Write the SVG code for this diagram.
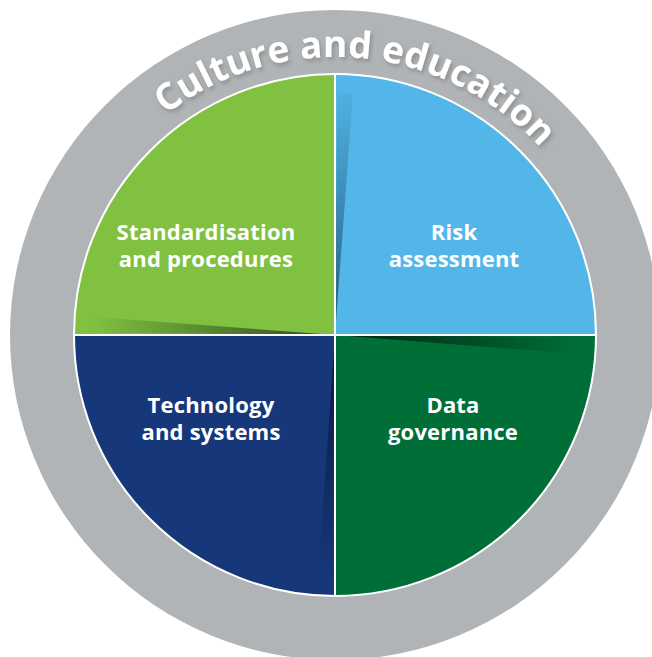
<svg xmlns="http://www.w3.org/2000/svg" width="652" height="657" viewBox="0 0 652 657">
  <defs>
    <style>
      .label { font-family: "Open Sans", "Liberation Sans", sans-serif; font-weight: 700; font-size: 22px; letter-spacing: 0.2px; fill: #ffffff; text-anchor: middle; }
      .ring { font-family: "Open Sans", "Liberation Sans", sans-serif; font-weight: 700; font-size: 37px; fill: #ffffff; }
      .divider { stroke: #ffffff; stroke-width: 2; fill: none; }
    </style>
    <filter id="softShadow" x="-10%" y="-10%" width="120%" height="130%">
      <feDropShadow dx="2" dy="3" stdDeviation="2" flood-color="#6f7375" flood-opacity="0.55"/>
    </filter>
    <!-- shading wedges next to the dividing lines -->
    <linearGradient id="shadeBlue" x1="0" y1="335" x2="0" y2="92" gradientUnits="userSpaceOnUse">
      <stop offset="0" stop-color="#173f5e" stop-opacity="0.75"/>
      <stop offset="1" stop-color="#173f5e" stop-opacity="0.05"/>
    </linearGradient>
    <linearGradient id="shadeLime" x1="335" y1="0" x2="92" y2="0" gradientUnits="userSpaceOnUse">
      <stop offset="0" stop-color="#1f3316" stop-opacity="0.85"/>
      <stop offset="1" stop-color="#1f3316" stop-opacity="0"/>
    </linearGradient>
    <linearGradient id="shadeForest" x1="335" y1="0" x2="580" y2="0" gradientUnits="userSpaceOnUse">
      <stop offset="0" stop-color="#001a0c" stop-opacity="0.9"/>
      <stop offset="1" stop-color="#001a0c" stop-opacity="0"/>
    </linearGradient>
    <linearGradient id="shadeNavy" x1="0" y1="335" x2="0" y2="580" gradientUnits="userSpaceOnUse">
      <stop offset="0" stop-color="#08132f" stop-opacity="0.85"/>
      <stop offset="1" stop-color="#08132f" stop-opacity="0"/>
    </linearGradient>
    <clipPath id="pieClip">
      <circle cx="335" cy="335" r="261"/>
    </clipPath>
    <path id="ringPath" d="M 57 335 A 278 278 0 0 1 613 335"/>
  </defs>

  <rect width="652" height="657" fill="#ffffff"/>

  <!-- outer ring with its curved title -->
  <g id="ring">
    <circle cx="335" cy="335" r="325" fill="#b1b4b6"/>
    <text class="ring" filter="url(#softShadow)">
      <textPath href="#ringPath" startOffset="461" text-anchor="middle">Culture and education</textPath>
    </text>
  </g>

  <!-- quadrants -->
  <g clip-path="url(#pieClip)">
    <g id="standardisation">
      <rect x="74" y="74" width="261" height="261" fill="#80c141"/>
      <polygon points="335,335 95,333 95,317" fill="url(#shadeLime)"/>
      <text class="label" x="206" y="240"><tspan x="206">Standardisation</tspan><tspan x="206" dy="26.5">and procedures</tspan></text>
    </g>
    <g id="risk">
      <rect x="335" y="74" width="261" height="261" fill="#52b7e8"/>
      <polygon points="335,335 337,93 353,93" fill="url(#shadeBlue)"/>
      <text class="label" x="454" y="240"><tspan x="454">Risk</tspan><tspan x="454" dy="26.5">assessment</tspan></text>
    </g>
    <g id="technology">
      <rect x="74" y="335" width="261" height="261" fill="#17377b"/>
      <polygon points="335,335 333,578 318,578" fill="url(#shadeNavy)"/>
      <text class="label" x="211" y="413"><tspan x="211">Technology</tspan><tspan x="211" dy="26.5">and systems</tspan></text>
    </g>
    <g id="data">
      <rect x="335" y="335" width="261" height="261" fill="#006e37"/>
      <polygon points="335,335 578,337 578,354" fill="url(#shadeForest)"/>
      <text class="label" x="453" y="413"><tspan x="453">Data</tspan><tspan x="453" dy="26.5">governance</tspan></text>
    </g>
  </g>

  <!-- dividing lines and rim -->
  <g id="connectors">
    <line class="divider" x1="335" y1="74" x2="335" y2="596"/>
    <line class="divider" x1="74" y1="335" x2="596" y2="335"/>
    <circle class="divider" cx="335" cy="335" r="261" stroke-width="1.5"/>
  </g>
</svg>
